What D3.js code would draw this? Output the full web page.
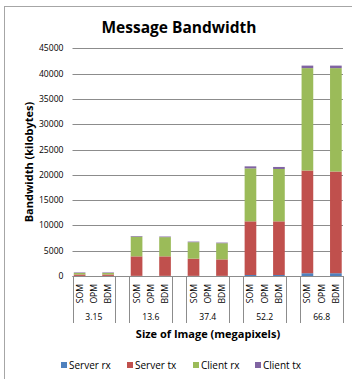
<!DOCTYPE html>
<html>
<head>
<meta charset="utf-8">
<script src="https://cdn.jsdelivr.net/npm/d3@7"></script>
<style>
  body { margin: 0; background: #fff; }
  text { font-family: "Open Sans", sans-serif; fill: #000; }
</style>
</head>
<body>
<svg id="chart" width="352" height="379"></svg>
<script>
const groups = ["3.15", "13.6", "37.4", "52.2", "66.8"];
const methods = ["SOM", "OPM", "BDM"];
const seriesNames = ["Server rx", "Server tx", "Client rx", "Client tx"];
const colors = ["#4F81BD", "#C0504D", "#9BBB59", "#8064A2"];

// one value per group x method (SOM, OPM, BDM)
const serverRx = [20, 0, 20, 30, 0, 30, 30, 0, 30, 200, 0, 200, 550, 0, 550];
const serverTx = [280, 0, 280, 3850, 0, 3850, 3400, 0, 3250, 10600, 0, 10600, 20300, 0, 20100];
const clientRx = [300, 0, 300, 3900, 0, 3800, 3250, 0, 3200, 10470, 0, 10350, 20230, 0, 20430];
const clientTx = [100, 0, 100, 120, 0, 120, 120, 0, 120, 400, 0, 400, 500, 0, 500];
const yTicks = [0, 5000, 10000, 15000, 20000, 25000, 30000, 35000, 40000, 45000];

const svg = d3.select("#chart");
const m = { top: 48.3, right: 9, bottom: 103, left: 72.5 };
const width = +svg.attr("width");
const height = +svg.attr("height");

// chart frame
svg.append("rect")
  .attr("x", 4.5).attr("y", 6.5)
  .attr("width", 360).attr("height", 380)
  .attr("fill", "none")
  .attr("stroke", "#a6a6a6");

// rows, with a blank slot between groups
const rows = [];
const domain = [];
groups.forEach((g, gi) => {
  methods.forEach((mt, mi) => {
    const i = gi * 3 + mi;
    const key = g + "|" + mt;
    domain.push(key);
    rows.push({ key, group: g, method: mt,
      "Server rx": serverRx[i], "Server tx": serverTx[i],
      "Client rx": clientRx[i], "Client tx": clientTx[i] });
  });
  if (gi < groups.length - 1) domain.push("gap" + gi);
});

const x = d3.scaleBand()
  .domain(domain)
  .range([m.left, width - m.right])
  .paddingInner(0.18)
  .paddingOuter(0.09);

const y = d3.scaleLinear()
  .domain([0, 45000])
  .range([height - m.bottom, m.top]);

const y0 = y(0);

// gridlines + y labels
svg.append("g")
  .selectAll("line")
  .data(yTicks)
  .enter().append("line")
    .attr("x1", m.left).attr("x2", width - m.right)
    .attr("y1", d => Math.round(y(d)) + 0.5)
    .attr("y2", d => Math.round(y(d)) + 0.5)
    .attr("stroke", "#8c8c8c");

svg.append("g")
  .selectAll("text")
  .data(yTicks)
  .enter().append("text")
    .attr("x", 63.5)
    .attr("y", d => y(d) + 3)
    .attr("text-anchor", "end")
    .attr("font-size", "8.6px")
    .text(d => d);

// stacked bars
const stacked = d3.stack().keys(seriesNames)(rows);
svg.append("g")
  .selectAll("g")
  .data(stacked)
  .enter().append("g")
    .attr("fill", (d, i) => colors[i])
  .selectAll("rect")
  .data(d => d)
  .enter().append("rect")
    .attr("x", d => x(d.data.key))
    .attr("width", x.bandwidth())
    .attr("y", d => y(d[1]))
    .attr("height", d => y(d[0]) - y(d[1]));

// category axis
const step = x.step();
svg.append("line")
  .attr("x1", m.left).attr("x2", width - m.right)
  .attr("y1", Math.round(y0) + 0.5).attr("y2", Math.round(y0) + 0.5)
  .attr("stroke", "#8c8c8c");

const edges = [];
groups.forEach(g => {
  const first = x(g + "|SOM") - (step - x.bandwidth()) / 2;
  edges.push(first, first + step * 3);
});
svg.append("g")
  .selectAll("line")
  .data(edges)
  .enter().append("line")
    .attr("x1", d => Math.round(d) + 0.5).attr("x2", d => Math.round(d) + 0.5)
    .attr("y1", y0).attr("y2", 323)
    .attr("stroke", "#8c8c8c");

svg.append("g")
  .selectAll("text")
  .data(rows)
  .enter().append("text")
    .attr("transform", d => `translate(${x(d.key) + x.bandwidth() / 2 + 3},284) rotate(-90)`)
    .attr("text-anchor", "end")
    .attr("font-size", "8.6px")
    .text(d => d.method);

svg.append("g")
  .selectAll("text")
  .data(groups)
  .enter().append("text")
    .attr("x", d => x(d + "|OPM") + x.bandwidth() / 2)
    .attr("y", 320)
    .attr("text-anchor", "middle")
    .attr("font-size", "8.6px")
    .text(d => d);

// titles
svg.append("text")
  .attr("x", 179).attr("y", 33)
  .attr("text-anchor", "middle")
  .attr("font-size", "15.5px")
  .attr("font-weight", "bold")
  .text("Message Bandwidth");

svg.append("text")
  .attr("x", 208).attr("y", 338)
  .attr("text-anchor", "middle")
  .attr("font-size", "11px")
  .attr("font-weight", "bold")
  .text("Size of Image (megapixels)");

svg.append("text")
  .attr("transform", "translate(33,162) rotate(-90)")
  .attr("text-anchor", "middle")
  .attr("font-size", "11px")
  .attr("font-weight", "bold")
  .text("Bandwidth (kilobytes)");

// legend
const legendX = [61, 127, 193, 255];
const legend = svg.append("g")
  .selectAll("g")
  .data(seriesNames)
  .enter().append("g")
    .attr("transform", (d, i) => `translate(${legendX[i]},362)`);
legend.append("rect")
  .attr("width", 6).attr("height", 6)
  .attr("fill", (d, i) => colors[i]);
legend.append("text")
  .attr("x", 8).attr("y", 6.5)
  .attr("font-size", "10px")
  .text(d => d);
</script>
</body>
</html>
